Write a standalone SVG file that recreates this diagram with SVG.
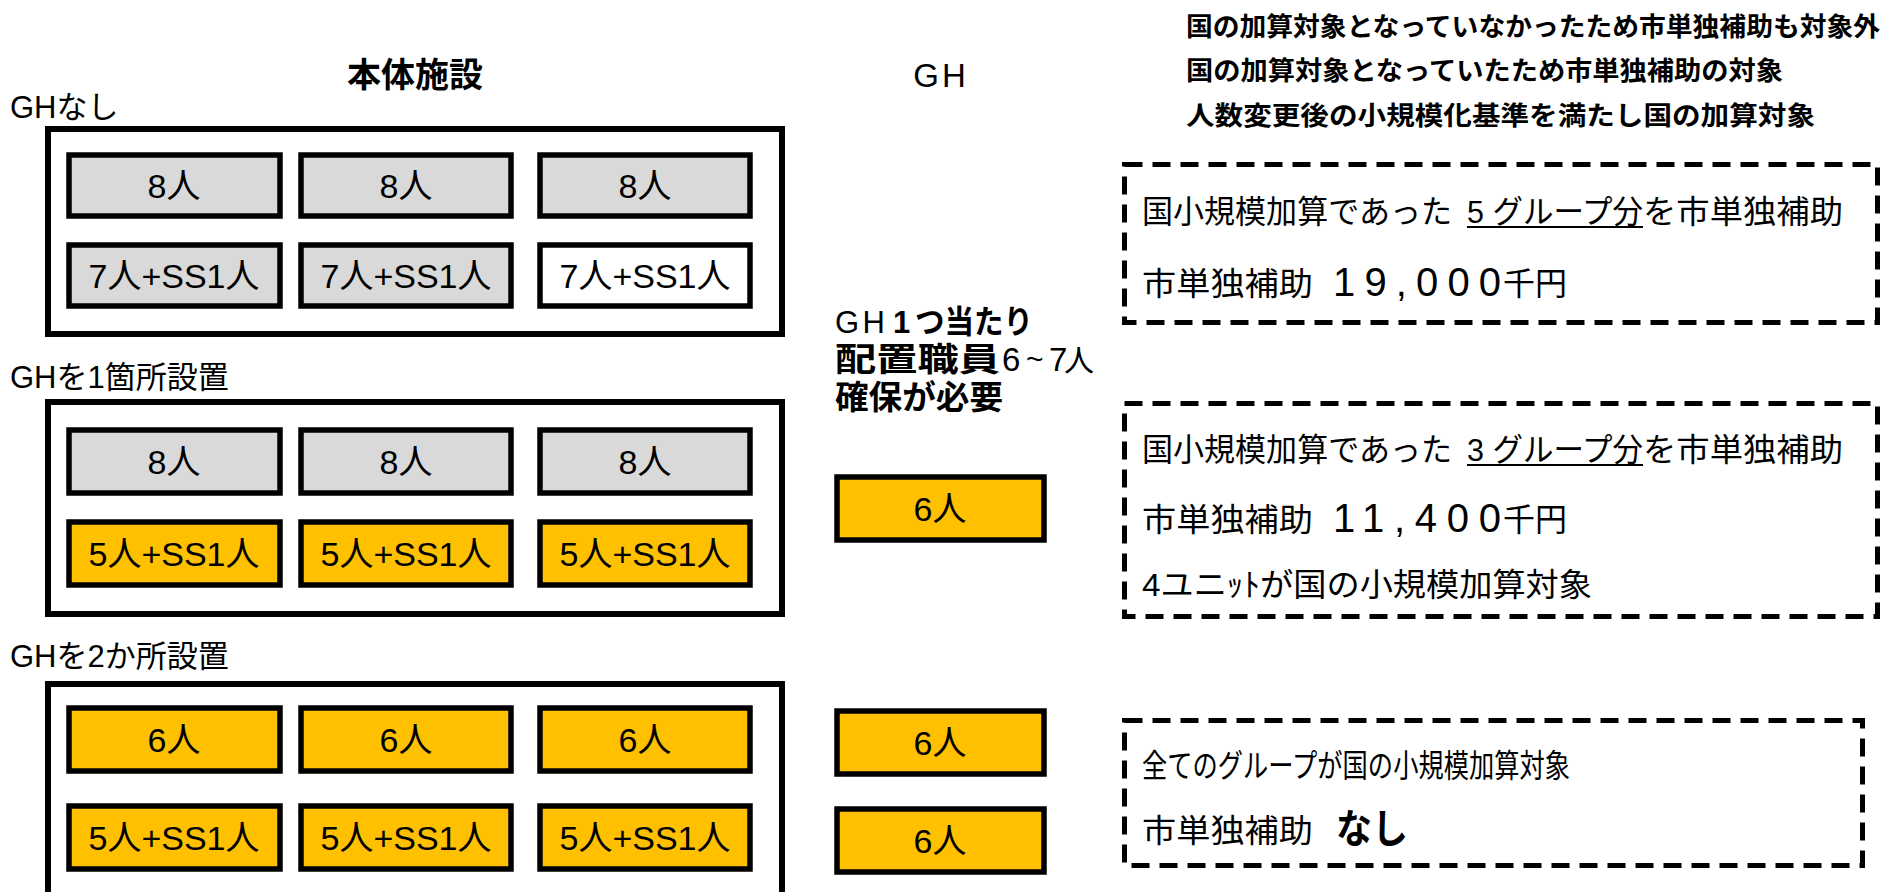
<svg xmlns="http://www.w3.org/2000/svg" width="1887" height="892" viewBox="0 0 1887 892">
<style>
text{font-family:"Liberation Sans","Noto Sans CJK JP",sans-serif;fill:#000}
.b{font-weight:bold}
.lbl{font-size:31px}
.cell{font-size:34px;text-anchor:middle}
.outer{fill:#fff;stroke:#000;stroke-width:6}
.g{fill:#D9D9D9;stroke:#000;stroke-width:5.5}
.w{fill:#fff;stroke:#000;stroke-width:5.5}
.o{fill:#FFC000;stroke:#000;stroke-width:5.5}
.dash{fill:none;stroke:#000;stroke-width:5;stroke-dasharray:18 10}
.bt{font-size:32px}
.top{font-size:26px;font-weight:bold}
</style>
<rect width="1887" height="892" fill="#fff"/>

<g id="legend">
<text class="top" x="1186" y="36" textLength="694" lengthAdjust="spacingAndGlyphs">国の加算対象となっていなかったため市単独補助も対象外</text>
<text class="top" x="1186" y="80" textLength="597" lengthAdjust="spacingAndGlyphs">国の加算対象となっていたため市単独補助の対象</text>
<text class="top" x="1186" y="125" textLength="629" lengthAdjust="spacingAndGlyphs">人数変更後の小規模化基準を満たし国の加算対象</text>
</g>

<g id="headers">
<text class="b" x="415" y="87" font-size="34" text-anchor="middle">本体施設</text>
<text x="941" y="87" font-size="33" text-anchor="middle" letter-spacing="3">GH</text>
<text class="lbl" x="10" y="118">GHなし</text>
<text class="lbl" x="10" y="388">GHを1箇所設置</text>
<text class="lbl" x="10" y="667">GHを2か所設置</text>
</g>

<g id="case-none">
<rect class="outer" x="48" y="129" width="734" height="205"/>
<g id="n-r1c1"><rect class="g" x="69" y="155" width="211" height="61"/><text class="cell" x="174" y="198">8人</text></g>
<g id="n-r1c2"><rect class="g" x="301" y="155" width="210" height="61"/><text class="cell" x="406" y="198">8人</text></g>
<g id="n-r1c3"><rect class="g" x="540" y="155" width="210" height="61"/><text class="cell" x="645" y="198">8人</text></g>
<g id="n-r2c1"><rect class="g" x="69" y="245" width="211" height="61"/><text class="cell" x="174" y="288">7人+SS1人</text></g>
<g id="n-r2c2"><rect class="g" x="301" y="245" width="210" height="61"/><text class="cell" x="406" y="288">7人+SS1人</text></g>
<g id="n-r2c3"><rect class="w" x="540" y="245" width="210" height="61"/><text class="cell" x="645" y="288">7人+SS1人</text></g>
</g>

<g id="case-one">
<rect class="outer" x="48" y="402" width="734" height="212"/>
<g id="a-r1c1"><rect class="g" x="69" y="430" width="211" height="63"/><text class="cell" x="174" y="474">8人</text></g>
<g id="a-r1c2"><rect class="g" x="301" y="430" width="210" height="63"/><text class="cell" x="406" y="474">8人</text></g>
<g id="a-r1c3"><rect class="g" x="540" y="430" width="210" height="63"/><text class="cell" x="645" y="474">8人</text></g>
<g id="a-r2c1"><rect class="o" x="69" y="522" width="211" height="63"/><text class="cell" x="174" y="566">5人+SS1人</text></g>
<g id="a-r2c2"><rect class="o" x="301" y="522" width="210" height="63"/><text class="cell" x="406" y="566">5人+SS1人</text></g>
<g id="a-r2c3"><rect class="o" x="540" y="522" width="210" height="63"/><text class="cell" x="645" y="566">5人+SS1人</text></g>
</g>

<g id="case-two">
<rect class="outer" x="48" y="684" width="734" height="240"/>
<g id="b-r1c1"><rect class="o" x="69" y="708" width="211" height="63"/><text class="cell" x="174" y="752">6人</text></g>
<g id="b-r1c2"><rect class="o" x="301" y="708" width="210" height="63"/><text class="cell" x="406" y="752">6人</text></g>
<g id="b-r1c3"><rect class="o" x="540" y="708" width="210" height="63"/><text class="cell" x="645" y="752">6人</text></g>
<g id="b-r2c1"><rect class="o" x="69" y="806" width="211" height="63"/><text class="cell" x="174" y="850">5人+SS1人</text></g>
<g id="b-r2c2"><rect class="o" x="301" y="806" width="210" height="63"/><text class="cell" x="406" y="850">5人+SS1人</text></g>
<g id="b-r2c3"><rect class="o" x="540" y="806" width="210" height="63"/><text class="cell" x="645" y="850">5人+SS1人</text></g>
</g>

<g id="gh-note">
<text x="835" y="333" font-size="31" textLength="50" lengthAdjust="spacing">GH</text>
<text class="b" x="893" y="333" font-size="31">1</text>
<text class="b" x="915" y="333" font-size="32" textLength="118" lengthAdjust="spacingAndGlyphs">つ当たり</text>
<text class="b" x="835" y="371" font-size="33" textLength="165" lengthAdjust="spacingAndGlyphs">配置職員</text>
<text x="1002" y="371" font-size="33">6</text>
<text x="1026" y="369" font-size="30">~</text>
<text x="1049" y="371" font-size="33">7</text>
<text x="1064" y="371" font-size="30">人</text>
<text class="b" x="835" y="409" font-size="33" textLength="168" lengthAdjust="spacingAndGlyphs">確保が必要</text>
</g>

<g id="gh-one"><rect class="o" x="837" y="477" width="207" height="63"/><text class="cell" x="940" y="521">6人</text></g>
<g id="gh-two-a"><rect class="o" x="837" y="711" width="207" height="63"/><text class="cell" x="940" y="755">6人</text></g>
<g id="gh-two-b"><rect class="o" x="837" y="809" width="207" height="63"/><text class="cell" x="940" y="853">6人</text></g>

<g id="result-none">
<rect class="dash" x="1124.5" y="164.5" width="753" height="158"/>
<text class="bt" x="1142" y="223" textLength="310" lengthAdjust="spacingAndGlyphs">国小規模加算であった</text>
<text class="bt" x="1467" y="223" textLength="176" lengthAdjust="spacingAndGlyphs">5 グループ分</text>
<line x1="1467" y1="227" x2="1643" y2="227" stroke="#000" stroke-width="2"/>
<text class="bt" x="1643" y="223" textLength="200" lengthAdjust="spacingAndGlyphs">を市単独補助</text>
<text class="bt" x="1142" y="295" textLength="171" lengthAdjust="spacingAndGlyphs">市単独補助</text>
<text x="1333" y="296" font-size="40" textLength="168" lengthAdjust="spacing">19,000</text>
<text class="bt" x="1503" y="295" textLength="64" lengthAdjust="spacingAndGlyphs">千円</text>
</g>

<g id="result-one">
<rect class="dash" x="1124.5" y="403.5" width="753" height="213"/>
<text class="bt" x="1142" y="461" textLength="310" lengthAdjust="spacingAndGlyphs">国小規模加算であった</text>
<text class="bt" x="1467" y="461" textLength="176" lengthAdjust="spacingAndGlyphs">3 グループ分</text>
<line x1="1467" y1="465" x2="1643" y2="465" stroke="#000" stroke-width="2"/>
<text class="bt" x="1643" y="461" textLength="200" lengthAdjust="spacingAndGlyphs">を市単独補助</text>
<text class="bt" x="1142" y="531" textLength="171" lengthAdjust="spacingAndGlyphs">市単独補助</text>
<text x="1333" y="532" font-size="40" textLength="168" lengthAdjust="spacing">11,400</text>
<text class="bt" x="1503" y="531" textLength="64" lengthAdjust="spacingAndGlyphs">千円</text>
<text class="bt" x="1142" y="596" textLength="450" lengthAdjust="spacingAndGlyphs">4ユニｯﾄが国の小規模加算対象</text>
</g>

<g id="result-two">
<rect class="dash" x="1124.5" y="720.5" width="738" height="145"/>
<text class="bt" x="1142" y="777" textLength="428" lengthAdjust="spacingAndGlyphs">全てのグループが国の小規模加算対象</text>
<text class="bt" x="1142" y="842" textLength="171" lengthAdjust="spacingAndGlyphs">市単独補助</text>
<text class="b" x="1336" y="843" font-size="40" textLength="72" lengthAdjust="spacingAndGlyphs">なし</text>
</g>

<g id="connectors"></g>
</svg>
